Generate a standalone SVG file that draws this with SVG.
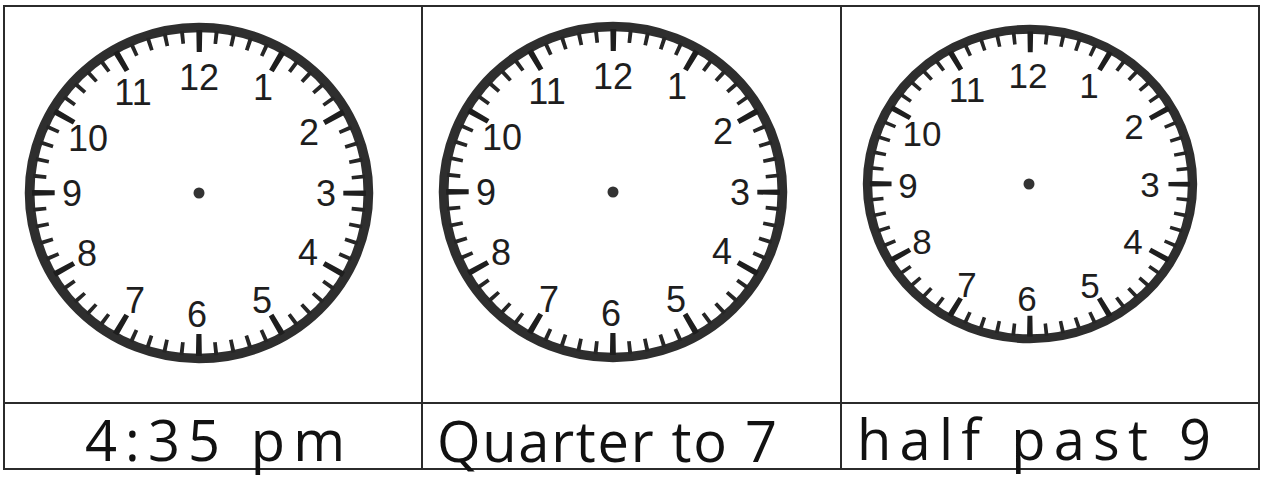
<svg xmlns="http://www.w3.org/2000/svg" xmlns:xlink="http://www.w3.org/1999/xlink" width="1264" height="478" viewBox="0 0 1264 478">
<style>
.grid{fill:none;stroke:#2b2b2b;stroke-width:2}
.rim{fill:#fff;stroke:#2e2e2e;stroke-width:9.5}
.minor{fill:none;stroke:#262626;stroke-width:13;stroke-dasharray:3.8 12.5886;stroke-dashoffset:1.9}
.major{fill:none;stroke:#1e1e1e;stroke-width:22;stroke-dasharray:5.5 74.087;stroke-dashoffset:2.75}
.num{font-family:"Liberation Sans",Arial,sans-serif;font-size:36px;fill:#1e1e1e;text-anchor:middle}
.num3{font-size:35px}
.dot{fill:#333}
.hand{font-family:"Open Sans","DejaVu Sans",sans-serif;font-weight:400;font-size:56px;fill:#111}
</style>
<defs>
<g id="face">
<circle class="rim" cx="0" cy="0" r="165.5"/>
<circle class="minor" cx="0" cy="0" r="156.5"/>
<circle class="major" cx="0" cy="0" r="152"/>
</g>
</defs>
<rect width="1264" height="478" fill="#fff"/>
<g id="table">
<rect class="grid" x="4" y="6" width="1255" height="463"/>
<line class="grid" x1="4" y1="403" x2="1259" y2="403"/>
<line class="grid" x1="422" y1="6" x2="422" y2="469"/>
<line class="grid" x1="841" y1="6" x2="841" y2="469"/>
</g>
<g id="clock1">
<use xlink:href="#face" href="#face" transform="translate(199,193) scale(1.0235,1)"/>
<circle class="dot" cx="199" cy="193" r="5.5"/>
<text class="num" x="199" y="90">12</text>
<text class="num" x="263" y="100">1</text>
<text class="num" x="309" y="145">2</text>
<text class="num" x="326" y="206">3</text>
<text class="num" x="308" y="265">4</text>
<text class="num" x="262" y="313">5</text>
<text class="num" x="197" y="327">6</text>
<text class="num" x="135" y="313">7</text>
<text class="num" x="87" y="266">8</text>
<text class="num" x="72" y="206">9</text>
<text class="num" x="88" y="151">10</text>
<text class="num" x="133" y="105">11</text>
</g>
<g id="clock2">
<use xlink:href="#face" href="#face" transform="translate(613,192) scale(1.0235,1)"/>
<circle class="dot" cx="613" cy="192" r="5.5"/>
<text class="num" x="613" y="89">12</text>
<text class="num" x="677" y="99">1</text>
<text class="num" x="723" y="144">2</text>
<text class="num" x="740" y="205">3</text>
<text class="num" x="722" y="264">4</text>
<text class="num" x="676" y="312">5</text>
<text class="num" x="611" y="326">6</text>
<text class="num" x="549" y="312">7</text>
<text class="num" x="501" y="265">8</text>
<text class="num" x="486" y="205">9</text>
<text class="num" x="502" y="150">10</text>
<text class="num" x="547" y="104">11</text>
</g>
<g id="clock3">
<use xlink:href="#face" href="#face" transform="translate(1030,184) scale(0.982,0.935)"/>
<circle class="dot" cx="1029" cy="184" r="5.5"/>
<text class="num num3" x="1028" y="88">12</text>
<text class="num num3" x="1089" y="98">1</text>
<text class="num num3" x="1134" y="139">2</text>
<text class="num num3" x="1150" y="197">3</text>
<text class="num num3" x="1133" y="254">4</text>
<text class="num num3" x="1090" y="298">5</text>
<text class="num num3" x="1027" y="311">6</text>
<text class="num num3" x="967" y="297">7</text>
<text class="num num3" x="922" y="254">8</text>
<text class="num num3" x="908" y="198">9</text>
<text class="num num3" x="922" y="146">10</text>
<text class="num num3" x="967" y="102">11</text>
</g>
<g id="label1"><text class="hand" x="85" y="461" textLength="260" lengthAdjust="spacing">4:35 pm</text></g>
<g id="label2"><text class="hand" x="437" y="462" textLength="340" lengthAdjust="spacing">Quarter to 7</text></g>
<g id="label3"><text class="hand" x="857" y="460" textLength="354" lengthAdjust="spacing">half past 9</text></g>
</svg>
